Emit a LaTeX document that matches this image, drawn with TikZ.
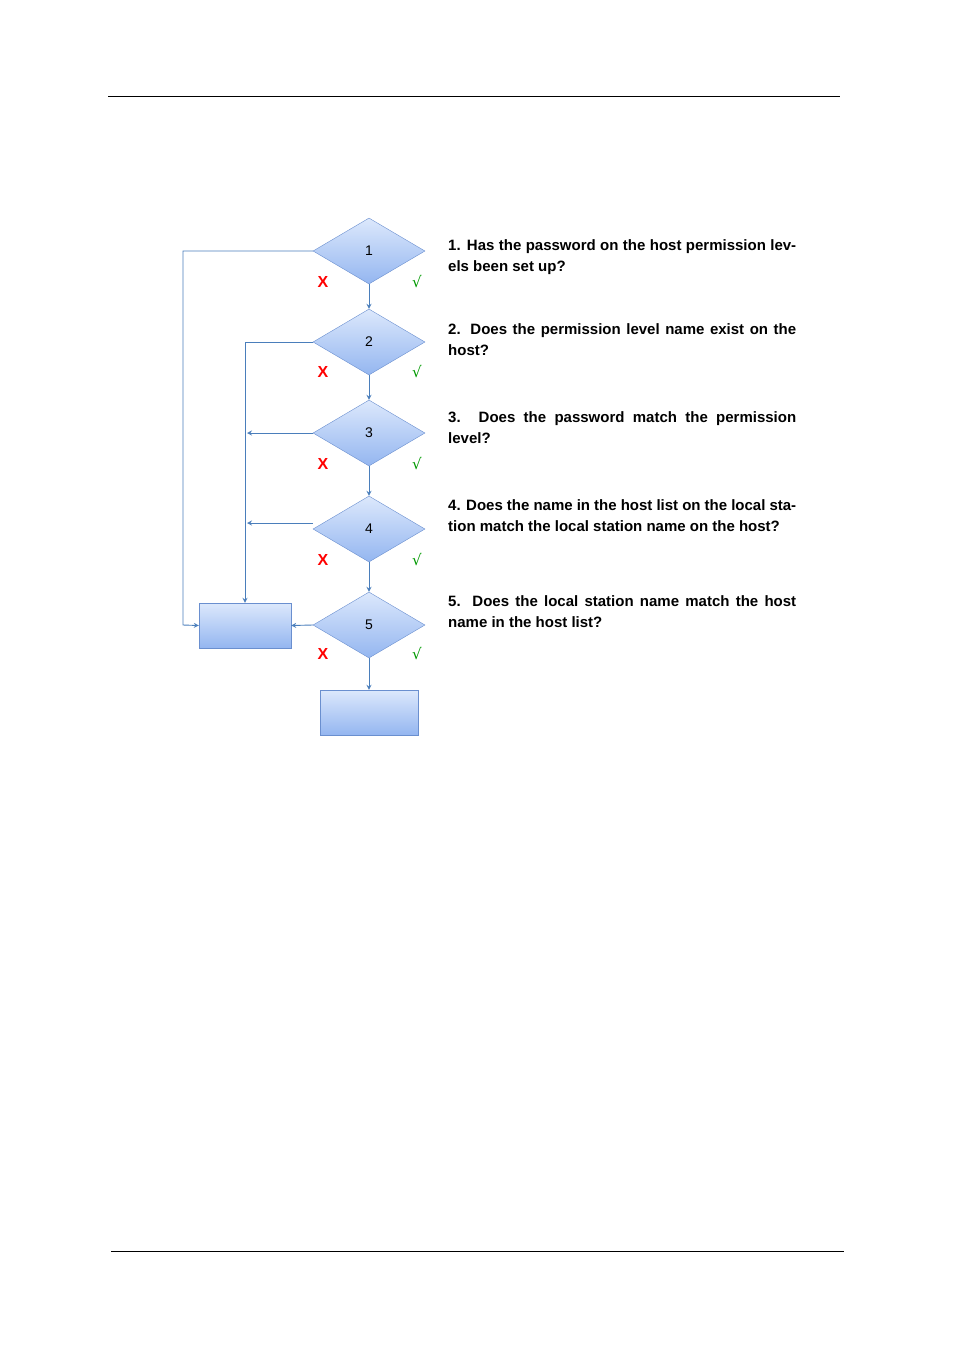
\documentclass[tikz,border=0pt]{standalone}
\usepackage{fontspec}
\setmainfont{Liberation Sans}
\newfontfamily\djvfont{DejaVu Sans}
\usetikzlibrary{shapes.geometric,arrows.meta}
\definecolor{bord}{HTML}{6A8FCF}
\definecolor{topc}{HTML}{DCE8FC}
\definecolor{botc}{HTML}{94B6F0}
\definecolor{lnc}{HTML}{4A7EBB}
\tikzset{
 dia/.style={diamond,draw=bord,top color=topc,bottom color=botc,minimum width=112pt,minimum height=66pt,inner sep=0pt,font=\fontsize{14}{14}\selectfont},
 box/.style={rectangle,draw=bord,top color=topc,bottom color=botc,inner sep=0pt},
 ln/.style={draw=lnc,line width=0.9pt},
 ar/.style={ln,-{Stealth[length=5pt,width=5pt,open]}},
 xm/.style={text=red,font=\fontsize{16}{16}\selectfont\bfseries},
 ck/.style={text=green!60!black,font=\djvfont\fontsize{15}{15}\selectfont},
 q/.style={anchor=north west,text width=348pt,align=justify,font=\fontsize{15}{21}\selectfont\bfseries,inner sep=0pt}
}
\begin{document}
\begin{tikzpicture}[x=1pt,y=-1pt]
\useasboundingbox (0,0) rectangle (954,1350);
\draw[line width=0.8pt] (108,96) -- (840,96);
\draw[line width=0.8pt] (111,1251) -- (844,1251);
\node[dia] (d1) at (369,251) {1};
\node[dia] (d2) at (369,342) {2};
\node[dia] (d3) at (369,433) {3};
\node[dia] (d4) at (369,529) {4};
\node[dia] (d5) at (369,625) {5};
\node[box,minimum width=92pt,minimum height=45pt] (bl) at (245,625.5) {};
\node[box,minimum width=98pt,minimum height=45pt] (bb) at (369,712.5) {};
\draw[ar] (d1.south) -- (d2.north);
\draw[ar] (d2.south) -- (d3.north);
\draw[ar] (d3.south) -- (d4.north);
\draw[ar] (d4.south) -- (d5.north);
\draw[ar] (d5.south) -- (bb.north);
\draw[ar] (d5.west) -- (bl.east);
\coordinate (c3) at (247,433);
\coordinate (c4) at (247,523);
\draw[ar] (d3.west) -- (c3);
\draw[ar] ([yshift=6pt]d4.west) -- (c4);
\draw[ar] (d2.west) -- (245,342) -- (bl.north);
\draw[ar] (d1.west) -- (183,251) -- (183,625) -- (bl.west);
\foreach \y in {282,372,464,560,654}{
 \node[xm] at (323,\y) {X};
 \node[ck] at (417,\y) {√};
}
\node[q] (q1) at (448,239) {1. Has the password on the host permission levels been set up?};
\node[q] (q2) at (448,323) {2. Does the permission level name exist on the host?};
\node[q] (q3) at (448,411) {3. Does the password match the permission level?};
\node[q] (q4) at (448,499) {4. Does the name in the host list on the local station match the local station name on the host?};
\node[q] (q5) at (448,595) {5. Does the local station name match the host name in the host list?};
\end{tikzpicture}
\end{document}
